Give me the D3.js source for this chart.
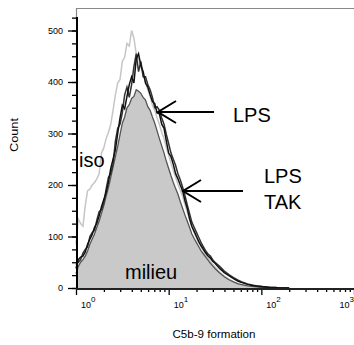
<!DOCTYPE html>
<html><head><meta charset="utf-8">
<script src="https://cdn.jsdelivr.net/npm/d3@7"></script>
<style>html,body{margin:0;padding:0;background:#fff;}svg{display:block;font-family:"Liberation Sans",Arial,sans-serif;}</style>
</head><body>
<svg id="c" width="354" height="345"></svg>
<script>
// log10 of fluorescence (bin positions)
const binLog = [0.000,0.025,0.050,0.075,0.100,0.125,0.150,0.175,0.200,0.225,0.250,0.275,0.300,0.325,0.350,0.375,0.400,0.425,0.450,0.475,
  0.500,0.525,0.550,0.575,0.600,0.625,0.650,0.675,0.700,0.725,0.750,0.775,0.800,0.825,0.850,0.875,0.900,0.925,0.950,0.975,
  1.000,1.025,1.050,1.075,1.100,1.125,1.150,1.175,1.200,1.225,1.250,1.275,1.300,1.325,1.350,1.375,1.400,1.425,1.450,1.475,1.500,
  1.55,1.60,1.65,1.70,1.75,1.80,1.85,1.90,1.95,2.00,2.05,2.10,2.15,2.20,2.25,2.30];
const iso = [85,134,125,120,160,189,192,200,205,212,222,262,272,290,302,318,345,375,398,405,
  440,448,475,470,500,485,455,445,430,412,400,385,372,355,345,330,318,302,290,272,
  258,242,228,215,202,190,178,162,148,134,120,108,97,88,80,72,64,58,52,46,41,
  31,23,17,12,8,6,4,3,2,1,1,0,0,0,0,0];
const milieu = [28,42,50,55,62,72,85,95,105,118,130,145,160,178,195,215,235,255,275,298,
  320,332,350,356,368,372,385,382,378,370,365,352,345,332,320,305,290,276,262,246,
  232,218,205,193,182,168,155,142,130,118,105,96,88,80,72,66,60,54,48,43,38,
  29,22,16,12,8,6,4,3,2,1,1,0,0,0,0,0];
const lps = [38,55,60,62,70,85,95,104,118,126,140,158,172,185,205,232,250,268,300,330,
  355,348,372,395,410,398,445,455,432,420,398,390,375,362,358,340,338,318,310,285,
  262,255,240,222,212,200,189,170,155,135,120,110,100,90,82,75,68,62,58,52,48,
  38,30,24,18,13,10,7,5,4,3,2,1,1,0,0,0];
const lpsTak = [45,50,55,68,75,80,100,108,112,132,148,152,165,192,215,222,240,285,310,318,
  340,375,390,370,395,430,455,420,440,410,410,395,385,370,350,352,345,330,318,298,
  280,262,250,238,222,210,196,180,162,145,128,118,108,98,88,80,72,66,62,55,50,
  42,33,26,20,15,11,8,6,4,3,2,1,1,0,0,0];
const yTicks = [0,100,200,300,400,500];
const xTickExp = [0,1,2,3];

const svg = d3.select("#c");
const x = d3.scaleLog().domain([1,1000]).range([76,354]);
const y = d3.scaleLinear().domain([0,500]).range([288,30.5]);
const xv = binLog.map(v => Math.pow(10, v));

// frame
svg.append("line").attr("x1",76).attr("x2",354).attr("y1",8.5).attr("y2",8.5).attr("stroke","#888").attr("stroke-width",1.2);
svg.append("line").attr("x1",76.5).attr("x2",76.5).attr("y1",8).attr("y2",20).attr("stroke","#888").attr("stroke-width",1.2);

const line = vals => d3.line().x((d,i)=>x(xv[i])).y(d=>y(d))(vals);
const area = d3.area().x((d,i)=>x(xv[i])).y0(y(0)).y1(d=>y(d));

// milieu fill
svg.append("path").attr("d", area(milieu)).attr("fill","#c9c9c9");
// iso
svg.append("path").attr("d", line(iso)).attr("fill","none").attr("stroke","#c6c6c6").attr("stroke-width",1.5);
svg.append("path").attr("d", line(milieu)).attr("fill","none").attr("stroke","#555").attr("stroke-width",1.3);
svg.append("path").attr("d", line(lpsTak)).attr("fill","none").attr("stroke","#333").attr("stroke-width",1.5);
svg.append("path").attr("d", line(lps)).attr("fill","none").attr("stroke","#111").attr("stroke-width",1.5);

// y axis
const yMinor = d3.range(0, 526, 25);
const gy = svg.append("g").attr("transform","translate(77,0)");
gy.call(d3.axisLeft(y).tickValues(yMinor).tickSize(5).tickFormat(""));
gy.call(g=>g.selectAll(".domain").remove());
const gy2 = svg.append("g").attr("transform","translate(77,0)");
gy2.call(d3.axisLeft(y).tickValues(yTicks).tickSize(9).tickPadding(5));
gy2.select(".domain").remove();
gy2.selectAll("text").attr("font-size",9).attr("font-family","Liberation Sans, Arial").attr("fill","#000");
svg.selectAll("g .tick line").attr("stroke","#000").attr("stroke-width",1.3);
svg.append("line").attr("x1",77).attr("x2",77).attr("y1",17).attr("y2",290).attr("stroke","#000").attr("stroke-width",2);

// x axis
const xMinor = [];
[1,10,100].forEach(b=>{for(let k=2;k<=9;k++) xMinor.push(b*k);});
const gx = svg.append("g").attr("transform","translate(0,289)");
gx.call(d3.axisBottom(x).tickValues(xMinor).tickSize(3).tickFormat(""));
gx.select(".domain").remove();
const gx2 = svg.append("g").attr("transform","translate(0,289)");
gx2.call(d3.axisBottom(x).tickValues(xTickExp.map(e=>Math.pow(10,e))).tickSize(6).tickFormat(""));
gx2.select(".domain").remove();
svg.selectAll("g .tick line").attr("stroke","#000").attr("stroke-width",1.3);
svg.append("line").attr("x1",76).attr("x2",354).attr("y1",289).attr("y2",289).attr("stroke","#222").attr("stroke-width",2);

xTickExp.forEach(e=>{
  const px = x(Math.pow(10,e));
  const t = svg.append("text").attr("y",308).attr("font-size",9).attr("fill","#000");
  if (e===3) { t.attr("x",354).attr("text-anchor","end"); } else { t.attr("x",px+5); }
  t.append("tspan").text("10");
  t.append("tspan").attr("dy",-6).attr("font-size",8).text(String(e));
});

// axis titles
svg.append("text").attr("transform","translate(18,135) rotate(-90)").attr("text-anchor","middle")
  .attr("font-size",10).attr("textLength",34).attr("lengthAdjust","spacingAndGlyphs").text("Count");
svg.append("text").attr("x",214).attr("y",338).attr("text-anchor","middle").attr("font-size",10)
  .attr("textLength",83).attr("lengthAdjust","spacingAndGlyphs").text("C5b-9 formation");

// annotations
const ann = (txt, ax, ay) => svg.append("text").attr("x",ax).attr("y",ay).attr("font-size",20).attr("fill","#000").text(txt);
ann("iso", 79, 167);
ann("milieu", 125, 279);
ann("LPS", 233, 122);
ann("LPS", 264, 183);
ann("TAK", 264, 209);
const arrow = (x0, x1, yy) => {
  svg.append("line").attr("x1",x1).attr("x2",x0).attr("y1",yy).attr("y2",yy).attr("stroke","#000").attr("stroke-width",2);
  svg.append("path").attr("d",`M${x0+18},${yy-11}L${x0},${yy}L${x0+18},${yy+11}`).attr("fill","none").attr("stroke","#000").attr("stroke-width",2);
};
arrow(158, 214, 112);
arrow(183, 243, 191);
</script>
</body></html>
